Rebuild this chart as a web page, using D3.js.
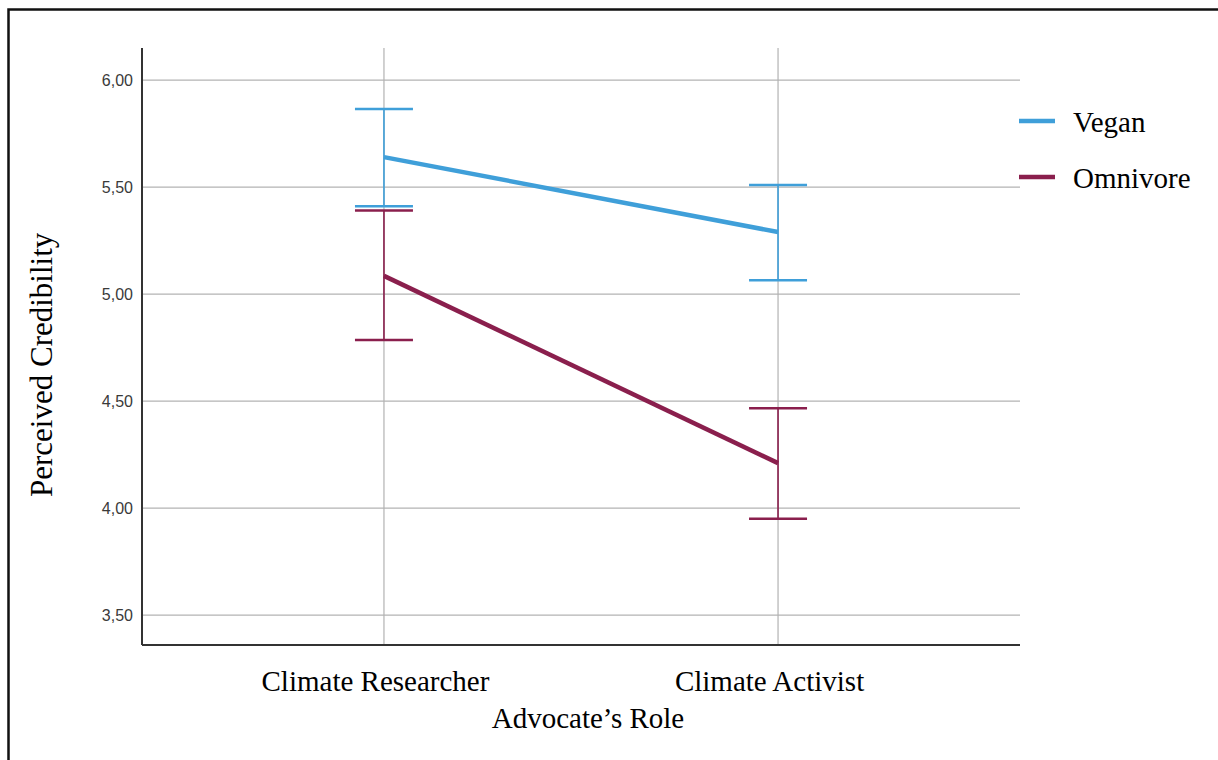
<!DOCTYPE html>
<html>
<head>
<meta charset="utf-8">
<script src="https://cdn.jsdelivr.net/npm/d3@7"></script>
<style>
  html, body { margin: 0; padding: 0; background: #fff; }
  svg { display: block; }
</style>
</head>
<body>
<svg id="chart" width="1218" height="760"></svg>
<script>
// ---- data ----
const roles = ["Climate Researcher", "Climate Activist"];
const groups = ["Vegan", "Omnivore"];
const veganMean = [5.64, 5.29];
const veganLower = [5.41, 5.065];
const veganUpper = [5.865, 5.51];
const omnivoreMean = [5.085, 4.21];
const omnivoreLower = [4.785, 3.95];
const omnivoreUpper = [5.39, 4.467];
const yTicks = [3.5, 4.0, 4.5, 5.0, 5.5, 6.0];
const groupColors = ["#3f9fd9", "#8a1f4d"];

const seriesData = [
  { name: groups[0], color: groupColors[0], mean: veganMean, lo: veganLower, hi: veganUpper },
  { name: groups[1], color: groupColors[1], mean: omnivoreMean, lo: omnivoreLower, hi: omnivoreUpper }
];

const svg = d3.select("#chart");
const plotL = 142, plotR = 1020, plotT = 48, plotB = 645;
const serif = "'Liberation Serif', 'Times New Roman', serif";

const x = d3.scalePoint().domain(roles).range([plotL, plotR]).padding(0.614);
const y = d3.scaleLinear().domain([3.36, 6.15]).range([plotB, plotT]);

// outer frame
svg.append("rect")
  .attr("x", 8.5).attr("y", 9.5).attr("width", 1230).attr("height", 780)
  .attr("fill", "none").attr("stroke", "#111").attr("stroke-width", 2.5);

// horizontal gridlines
svg.append("g").selectAll("line").data(yTicks).join("line")
  .attr("x1", plotL).attr("x2", plotR)
  .attr("y1", d => y(d)).attr("y2", d => y(d))
  .attr("stroke", "#b3b3b3").attr("stroke-width", 1.2);

// vertical gridlines
svg.append("g").selectAll("line").data(roles).join("line")
  .attr("x1", d => x(d)).attr("x2", d => x(d))
  .attr("y1", plotT).attr("y2", plotB)
  .attr("stroke", "#b3b3b3").attr("stroke-width", 1.2);

// y axis
const fmt = d => d3.format(".2f")(d).replace(".", ",");
const yAxis = svg.append("g").attr("transform", `translate(${plotL},0)`)
  .call(d3.axisLeft(y).tickValues(yTicks).tickFormat(fmt).tickSize(0).tickPadding(9));
yAxis.select(".domain").attr("stroke", "#333").attr("stroke-width", 2).attr("d", `M0,${plotT}V${plotB}`);
yAxis.selectAll("text")
  .attr("font-family", "Arial, 'Liberation Sans', sans-serif")
  .attr("font-size", 16).attr("fill", "#3a3a3a");

// x axis
const xAxis = svg.append("g").attr("transform", `translate(0,${plotB})`)
  .call(d3.axisBottom(x).tickSize(0).tickPadding(0));
xAxis.select(".domain").attr("stroke", "#333").attr("stroke-width", 2).attr("d", `M${plotL},0H${plotR}`);
xAxis.selectAll("text")
  .attr("font-family", serif)
  .attr("font-size", 29).attr("fill", "#000")
  .attr("dy", null).attr("y", 46).attr("dx", -9);

// axis titles
svg.append("text")
  .attr("x", 588).attr("y", 728)
  .attr("text-anchor", "middle")
  .attr("font-family", serif)
  .attr("font-size", 29).attr("fill", "#000")
  .text("Advocate\u2019s Role");

svg.append("text")
  .attr("transform", "translate(52,497) rotate(-90)")
  .attr("text-anchor", "start")
  .attr("font-family", serif)
  .attr("font-size", 31).attr("fill", "#000")
  .text("Perceived Credibility");

// error bars
const capHalf = 29;
seriesData.forEach(s => {
  const g = svg.append("g");
  g.selectAll("line.v").data(roles).join("line").attr("class", "v")
    .attr("x1", d => x(d)).attr("x2", d => x(d))
    .attr("y1", (d, i) => y(s.hi[i])).attr("y2", (d, i) => y(s.lo[i]))
    .attr("stroke", s.color).attr("stroke-width", 1.6);
  g.selectAll("line.hi").data(roles).join("line").attr("class", "hi")
    .attr("x1", d => x(d) - capHalf).attr("x2", d => x(d) + capHalf)
    .attr("y1", (d, i) => y(s.hi[i])).attr("y2", (d, i) => y(s.hi[i]))
    .attr("stroke", s.color).attr("stroke-width", 2.5);
  g.selectAll("line.lo").data(roles).join("line").attr("class", "lo")
    .attr("x1", d => x(d) - capHalf).attr("x2", d => x(d) + capHalf)
    .attr("y1", (d, i) => y(s.lo[i])).attr("y2", (d, i) => y(s.lo[i]))
    .attr("stroke", s.color).attr("stroke-width", 2.5);
});

// mean lines
const line = d3.line().x(d => x(d.role)).y(d => y(d.v));
seriesData.forEach(s => {
  svg.append("path")
    .datum(roles.map((r, i) => ({ role: r, v: s.mean[i] })))
    .attr("d", line)
    .attr("fill", "none")
    .attr("stroke", s.color)
    .attr("stroke-width", 4.5)
    .attr("stroke-linecap", "butt");
});

// legend
const legendY = [121, 177];
const lg = svg.append("g");
seriesData.forEach((s, i) => {
  lg.append("line")
    .attr("x1", 1019).attr("x2", 1055)
    .attr("y1", legendY[i]).attr("y2", legendY[i])
    .attr("stroke", s.color).attr("stroke-width", 4.5);
  lg.append("text")
    .attr("x", 1073).attr("y", legendY[i] + 11)
    .attr("font-family", serif)
    .attr("font-size", 29).attr("fill", "#000")
    .text(s.name);
});
</script>
</body>
</html>
